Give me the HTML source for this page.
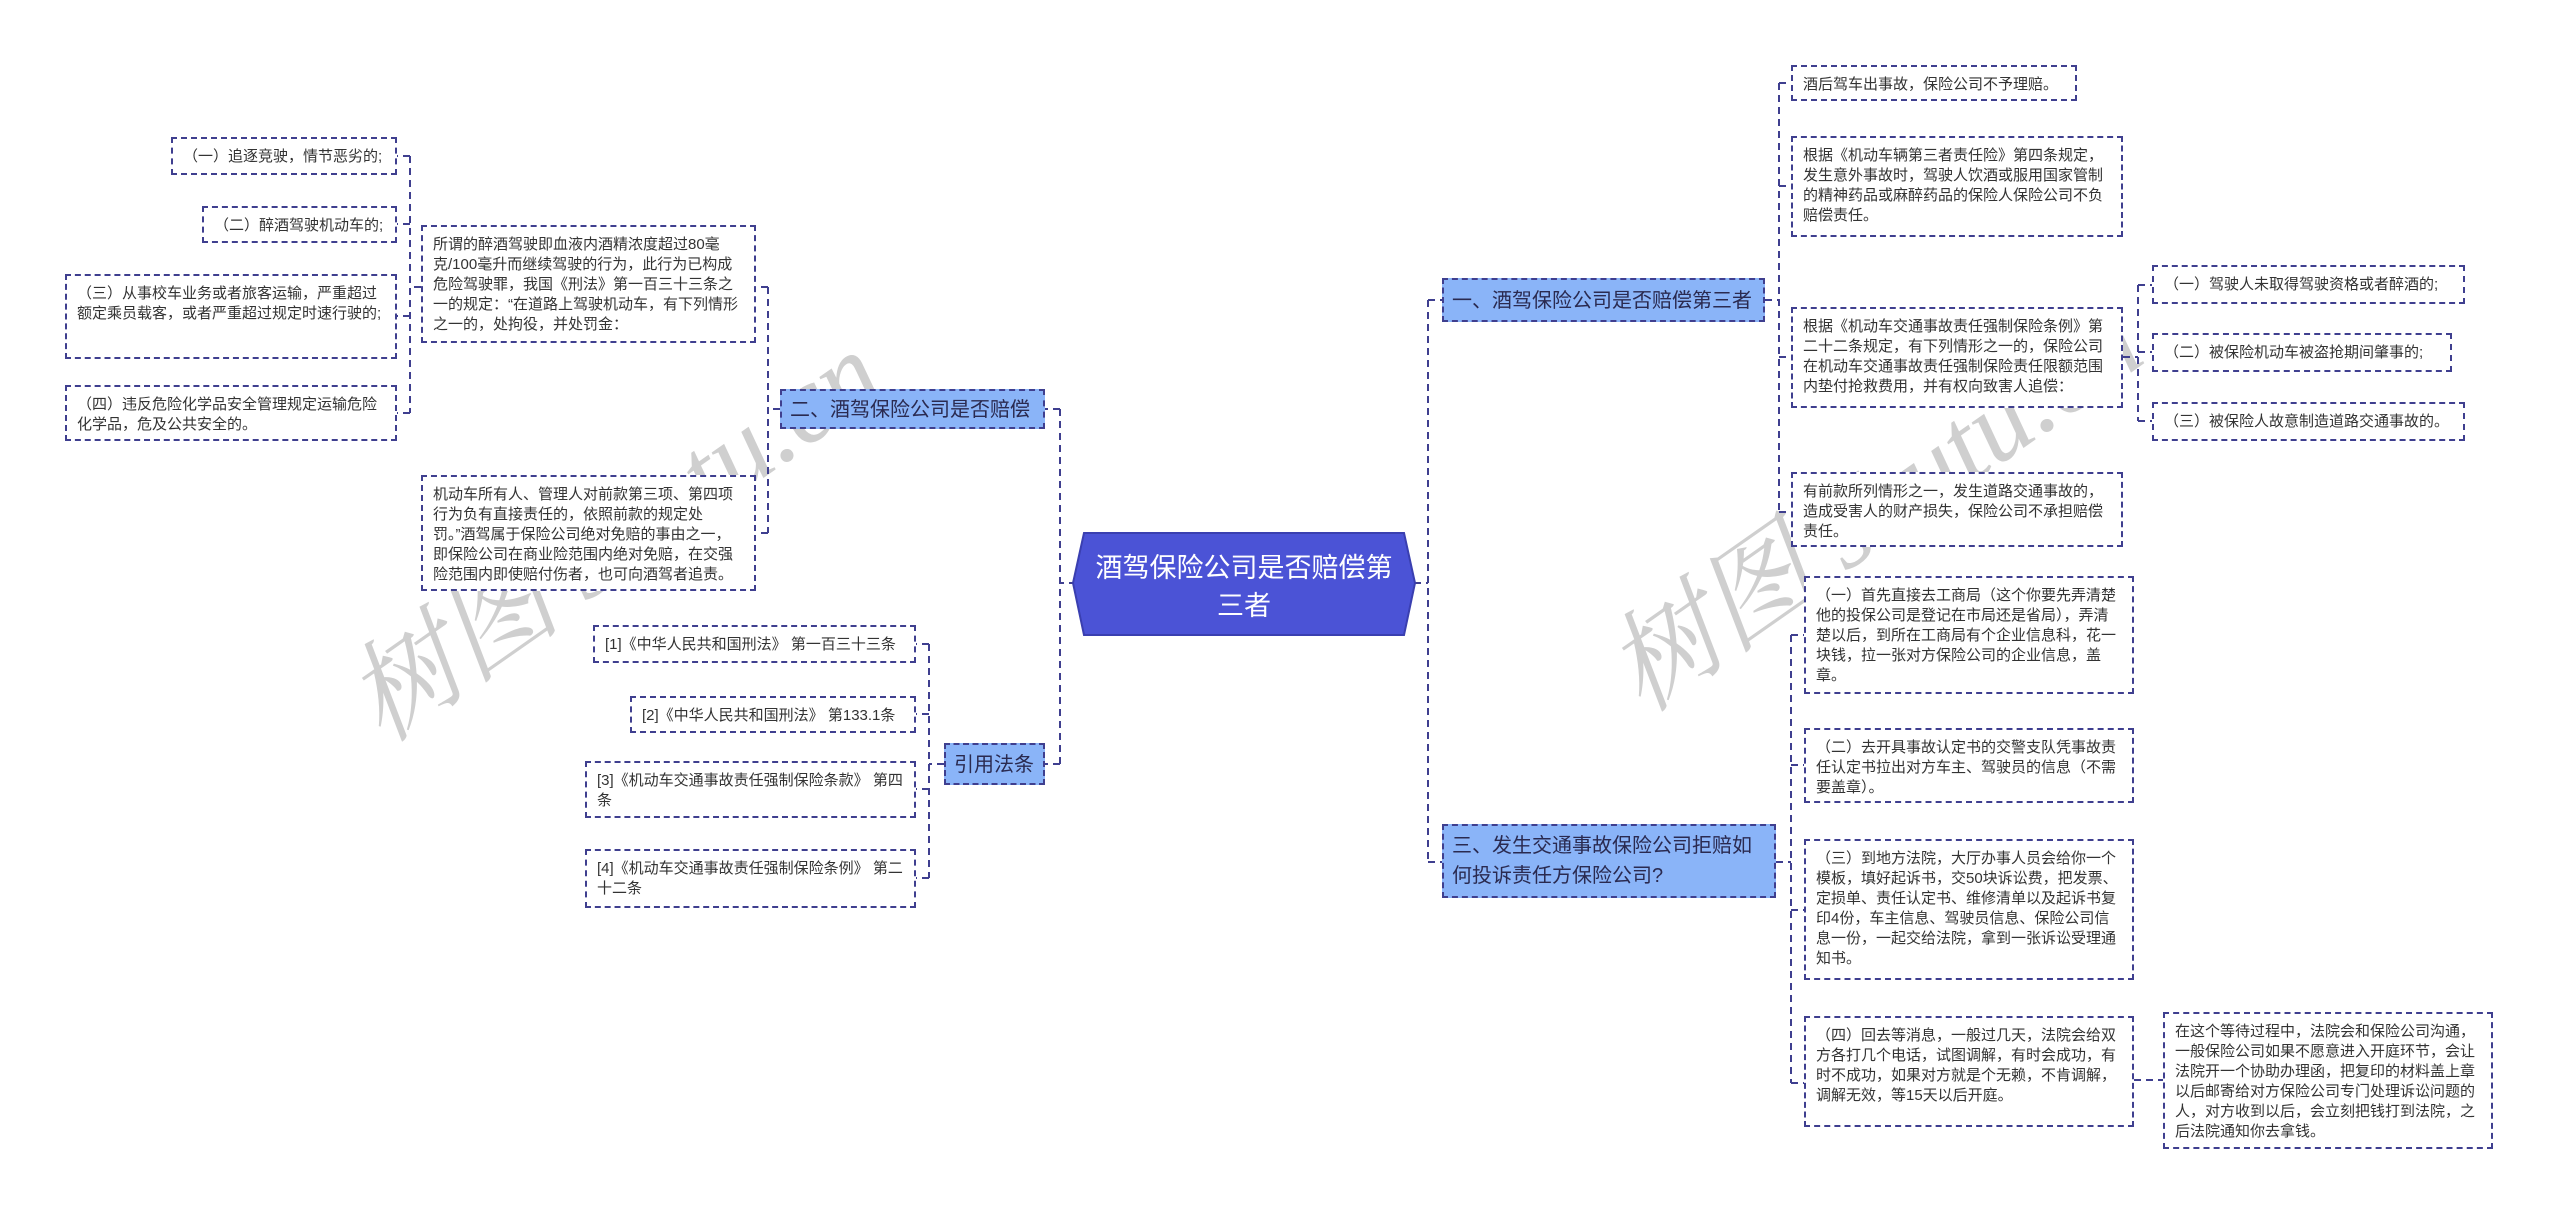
<!DOCTYPE html>
<html><head><meta charset="utf-8"><style>
html,body{margin:0;padding:0;background:#fff;}
body{width:2560px;height:1217px;position:relative;overflow:hidden;font-family:"Liberation Sans","Noto Sans CJK SC",sans-serif;}
.b{position:absolute;box-sizing:border-box;border:2px dashed #3f3f8f;background:#fff;color:#333;font-size:15px;line-height:20px;padding:8px 10px;}
.m{position:absolute;box-sizing:border-box;border:2px dashed #3f3f8f;background:#8ab4f8;color:#2a2a50;font-size:20px;line-height:30px;padding:4px 8px;}
.n{white-space:nowrap;}
.wm{position:absolute;color:#cfcfcf;font-size:110px;white-space:nowrap;transform:rotate(-35deg);transform-origin:center;font-family:"Liberation Serif","Noto Serif CJK SC",serif;font-style:italic;}
svg{position:absolute;left:0;top:0;}
</style></head><body>
<div class="wm" style="left:300px;top:450px;">树图 shutu.cn</div>
<div class="wm" style="left:1560px;top:420px;">树图 shutu.cn</div>
<svg width="2560" height="1217">
<g stroke="#3f3f8f" stroke-width="2" stroke-dasharray="7,5" fill="none">
<path d="M1076 583H1060M1060 409V764M1060 409H1045M1060 764H1045"/>
<path d="M780 409H768M768 287V533M768 287H756M768 533H756"/>
<path d="M421 287H410M410 156V413M410 156H397M410 224H397M410 316H397M410 413H397"/>
<path d="M944 764H929M929 644V878M929 644H916M929 714H916M929 789H916M929 878H916"/>
<path d="M1414 583H1428M1428 300V862M1428 300H1442M1428 862H1442"/>
<path d="M1765 300H1779M1779 83V512M1779 83H1791M1779 186H1791M1779 357H1791M1779 512H1791"/>
<path d="M2123 357H2138M2138 285V421M2138 285H2152M2138 352H2152M2138 421H2152"/>
<path d="M1776 862H1791M1791 635V1083M1791 635H1804M1791 765H1804M1791 910H1804M1791 1083H1804"/>
<path d="M2134 1080H2163"/>
</g>
<polygon points="1084,533 1404,533 1415,583 1404,635 1084,635 1073,583" fill="#4b53d6" stroke="#3a3fb0" stroke-width="2"/>
<text x="1244" y="577" fill="#fff" font-size="27" text-anchor="middle" font-family="Liberation Sans, Noto Sans CJK SC, sans-serif">酒驾保险公司是否赔偿第</text>
<text x="1244" y="615" fill="#fff" font-size="27" text-anchor="middle" font-family="Liberation Sans, Noto Sans CJK SC, sans-serif">三者</text>
</svg>

<div class="m n" style="left:780px;top:389px;width:265px;height:40px;">二、酒驾保险公司是否赔偿</div>
<div class="m n" style="left:944px;top:743px;width:101px;height:42px;padding-top:5px;">引用法条</div>
<div class="m n" style="left:1442px;top:278px;width:323px;height:44px;padding-top:6px;">一、酒驾保险公司是否赔偿第三者</div>
<div class="m" style="left:1442px;top:824px;width:334px;height:74px;padding:5px 8px;">三、发生交通事故保险公司拒赔如何投诉责任方保险公司?</div>

<div class="b" style="left:171px;top:137px;width:226px;height:38px;">（一）追逐竞驶，情节恶劣的;</div>
<div class="b" style="left:202px;top:206px;width:195px;height:37px;">（二）醉酒驾驶机动车的;</div>
<div class="b" style="left:65px;top:274px;width:332px;height:85px;">（三）从事校车业务或者旅客运输，严重超过额定乘员载客，或者严重超过规定时速行驶的;</div>
<div class="b" style="left:65px;top:385px;width:332px;height:56px;">（四）违反危险化学品安全管理规定运输危险化学品，危及公共安全的。</div>
<div class="b" style="left:421px;top:225px;width:335px;height:118px;">所谓的醉酒驾驶即血液内酒精浓度超过80毫克/100毫升而继续驾驶的行为，此行为已构成危险驾驶罪，我国《刑法》第一百三十三条之一的规定：“在道路上驾驶机动车，有下列情形之一的，处拘役，并处罚金：</div>
<div class="b" style="left:421px;top:475px;width:335px;height:116px;">机动车所有人、管理人对前款第三项、第四项行为负有直接责任的，依照前款的规定处罚。”酒驾属于保险公司绝对免赔的事由之一，即保险公司在商业险范围内绝对免赔，在交强险范围内即使赔付伤者，也可向酒驾者追责。</div>

<div class="b" style="left:593px;top:625px;width:323px;height:38px;">[1]《中华人民共和国刑法》 第一百三十三条</div>
<div class="b" style="left:630px;top:696px;width:286px;height:37px;">[2]《中华人民共和国刑法》 第133.1条</div>
<div class="b" style="left:585px;top:761px;width:331px;height:57px;">[3]《机动车交通事故责任强制保险条款》 第四条</div>
<div class="b" style="left:585px;top:849px;width:331px;height:59px;">[4]《机动车交通事故责任强制保险条例》 第二十二条</div>

<div class="b" style="left:1791px;top:65px;width:286px;height:36px;">酒后驾车出事故，保险公司不予理赔。</div>
<div class="b" style="left:1791px;top:136px;width:332px;height:101px;">根据《机动车辆第三者责任险》第四条规定，发生意外事故时，驾驶人饮酒或服用国家管制的精神药品或麻醉药品的保险人保险公司不负赔偿责任。</div>
<div class="b" style="left:1791px;top:307px;width:332px;height:101px;">根据《机动车交通事故责任强制保险条例》第二十二条规定，有下列情形之一的，保险公司在机动车交通事故责任强制保险责任限额范围内垫付抢救费用，并有权向致害人追偿：</div>
<div class="b" style="left:1791px;top:472px;width:332px;height:75px;">有前款所列情形之一，发生道路交通事故的，造成受害人的财产损失，保险公司不承担赔偿责任。</div>
<div class="b" style="left:2152px;top:265px;width:313px;height:39px;">（一）驾驶人未取得驾驶资格或者醉酒的;</div>
<div class="b" style="left:2152px;top:333px;width:300px;height:39px;">（二）被保险机动车被盗抢期间肇事的;</div>
<div class="b" style="left:2152px;top:402px;width:313px;height:39px;">（三）被保险人故意制造道路交通事故的。</div>

<div class="b" style="left:1804px;top:576px;width:330px;height:118px;">（一）首先直接去工商局（这个你要先弄清楚他的投保公司是登记在市局还是省局），弄清楚以后，到所在工商局有个企业信息科，花一块钱，拉一张对方保险公司的企业信息，盖章。</div>
<div class="b" style="left:1804px;top:728px;width:330px;height:75px;">（二）去开具事故认定书的交警支队凭事故责任认定书拉出对方车主、驾驶员的信息（不需要盖章）。</div>
<div class="b" style="left:1804px;top:839px;width:330px;height:141px;">（三）到地方法院，大厅办事人员会给你一个模板，填好起诉书，交50块诉讼费，把发票、定损单、责任认定书、维修清单以及起诉书复印4份，车主信息、驾驶员信息、保险公司信息一份，一起交给法院，拿到一张诉讼受理通知书。</div>
<div class="b" style="left:1804px;top:1016px;width:330px;height:111px;">（四）回去等消息，一般过几天，法院会给双方各打几个电话，试图调解，有时会成功，有时不成功，如果对方就是个无赖，不肯调解，调解无效，等15天以后开庭。</div>
<div class="b" style="left:2163px;top:1012px;width:330px;height:137px;">在这个等待过程中，法院会和保险公司沟通，一般保险公司如果不愿意进入开庭环节，会让法院开一个协助办理函，把复印的材料盖上章以后邮寄给对方保险公司专门处理诉讼问题的人，对方收到以后，会立刻把钱打到法院，之后法院通知你去拿钱。</div>
</body></html>
